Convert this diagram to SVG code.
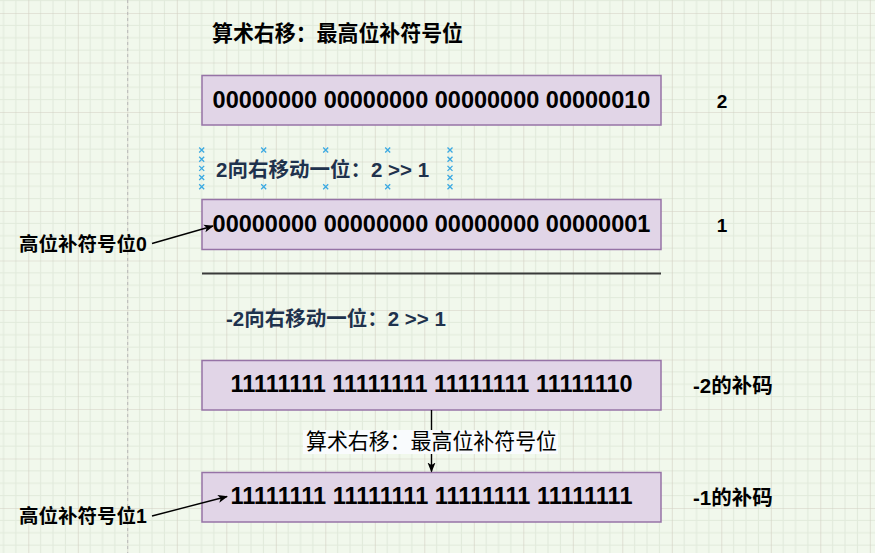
<svg xmlns="http://www.w3.org/2000/svg" width="875" height="553" viewBox="0 0 875 553">
<style>
.box{fill:#e1d5e7;stroke:#9673a6;stroke-width:1.5}
.bits{font-family:"Liberation Sans","Noto Sans CJK SC",sans-serif;font-weight:bold;font-size:23.5px;fill:#000}
.lbl{font-family:"Liberation Sans","Noto Sans CJK SC",sans-serif;font-weight:bold;fill:#000}
.nav{font-family:"Liberation Sans","Noto Sans CJK SC",sans-serif;font-weight:bold;font-size:20.5px;fill:#1f324d}
.edge{stroke:#000;stroke-width:1.4;fill:none}
.mk{stroke:#3aa9e2;stroke-width:1.3}
</style>
<defs>
<pattern id="grid" patternUnits="userSpaceOnUse" x="28.3" y="13" width="49.5" height="49.5">
<rect width="49.5" height="49.5" fill="#f1f8ec"/>
<path d="M12.375 0V49.5M24.75 0V49.5M37.125 0V49.5M0 12.375H49.5M0 24.75H49.5M0 37.125H49.5" stroke="#e1eadb" stroke-width="1"/>
<path d="M0 0V49.5M0 0H49.5" stroke="#d3cfc2" stroke-width="1.2"/>
</pattern>
<marker id="arr" viewBox="0 0 10 10" refX="9" refY="5" markerWidth="10" markerHeight="10" markerUnits="userSpaceOnUse" orient="auto">
<path d="M0 1L10 5L0 9L2.5 5Z" fill="#000"/>
</marker>
</defs>
<rect width="875" height="553" fill="url(#grid)"/>
<line x1="127.7" y1="0" x2="127.7" y2="553" stroke="#b8b8b8" stroke-width="1" stroke-dasharray="3 3"/>

<g id="title"><text class="lbl" x="212" y="40.5" font-size="22" textLength="251" lengthAdjust="spacingAndGlyphs">算术右移：最高位补符号位</text></g>

<g id="box1"><rect class="box" x="202" y="75.5" width="459" height="49.5"/>
<text class="bits" x="431.5" y="108.3" text-anchor="middle">00000000 00000000 00000000 00000010</text></g>
<g id="val2"><text class="lbl" x="722" y="108.3" font-size="19" text-anchor="middle">2</text></g>

<g id="shift1"><text class="nav" x="216" y="176.7">2向右移动一位：2 &gt;&gt; 1</text>
<g class="mk">
<path d="M199.2 147.5l5 5m0-5l-5 5M199.2 156.7l5 5m0-5l-5 5M199.2 165.9l5 5m0-5l-5 5M199.2 175l5 5m0-5l-5 5M199.2 184.2l5 5m0-5l-5 5"/>
<path d="M447.5 147.5l5 5m0-5l-5 5M447.5 156.7l5 5m0-5l-5 5M447.5 165.9l5 5m0-5l-5 5M447.5 175l5 5m0-5l-5 5M447.5 184.2l5 5m0-5l-5 5"/>
<path d="M261.2 147.5l5 5m0-5l-5 5M323.2 147.5l5 5m0-5l-5 5M385.2 147.5l5 5m0-5l-5 5M261.2 184.2l5 5m0-5l-5 5M323.2 184.2l5 5m0-5l-5 5M385.2 184.2l5 5m0-5l-5 5"/>
</g></g>

<g id="box2"><rect class="box" x="202" y="199.5" width="459" height="50"/>
<text class="bits" x="431.5" y="231.7" text-anchor="middle">00000000 00000000 00000000 00000001</text></g>
<g id="val1"><text class="lbl" x="722" y="231.8" font-size="19" text-anchor="middle">1</text></g>
<g id="note0"><text class="lbl" x="19" y="250.5" font-size="19.5">高位补符号位0</text></g>

<g id="separator"><line x1="202" y1="273.5" x2="661" y2="273.5" stroke="#3a3a3a" stroke-width="1.8"/></g>

<g id="shift2"><text class="nav" x="226" y="326">-2向右移动一位：2 &gt;&gt; 1</text></g>

<g id="box3"><rect class="box" x="202" y="360.5" width="459" height="49.5"/>
<text class="bits" x="431.5" y="391.7" text-anchor="middle" textLength="402" lengthAdjust="spacingAndGlyphs">11111111 11111111 11111111 11111110</text></g>
<g id="neg2"><text class="lbl" x="693" y="393" font-size="20.5">-2的补码</text></g>

<g id="box4"><rect class="box" x="202" y="472.5" width="459" height="49.5"/>
<text class="bits" x="431.5" y="504" text-anchor="middle" textLength="402" lengthAdjust="spacingAndGlyphs">11111111 11111111 11111111 11111111</text></g>
<g id="neg1"><text class="lbl" x="693" y="504.5" font-size="20.5">-1的补码</text></g>
<g id="note1"><text class="lbl" x="19" y="523" font-size="19.5">高位补符号位1</text></g>

<g id="connectors">
<path class="edge" d="M152 243.5L213 226" marker-end="url(#arr)"/>
<path class="edge" d="M152 516L227 496.5" marker-end="url(#arr)"/>
<path class="edge" d="M431.5 410V471.5" marker-end="url(#arr)"/>
<rect x="303" y="430" width="255" height="24" fill="#f9fbfd"/>
<text x="306" y="448.5" font-family="'Liberation Sans','Noto Sans CJK SC',sans-serif" font-size="22" fill="#000" textLength="251" lengthAdjust="spacingAndGlyphs">算术右移：最高位补符号位</text>
</g>
</svg>
